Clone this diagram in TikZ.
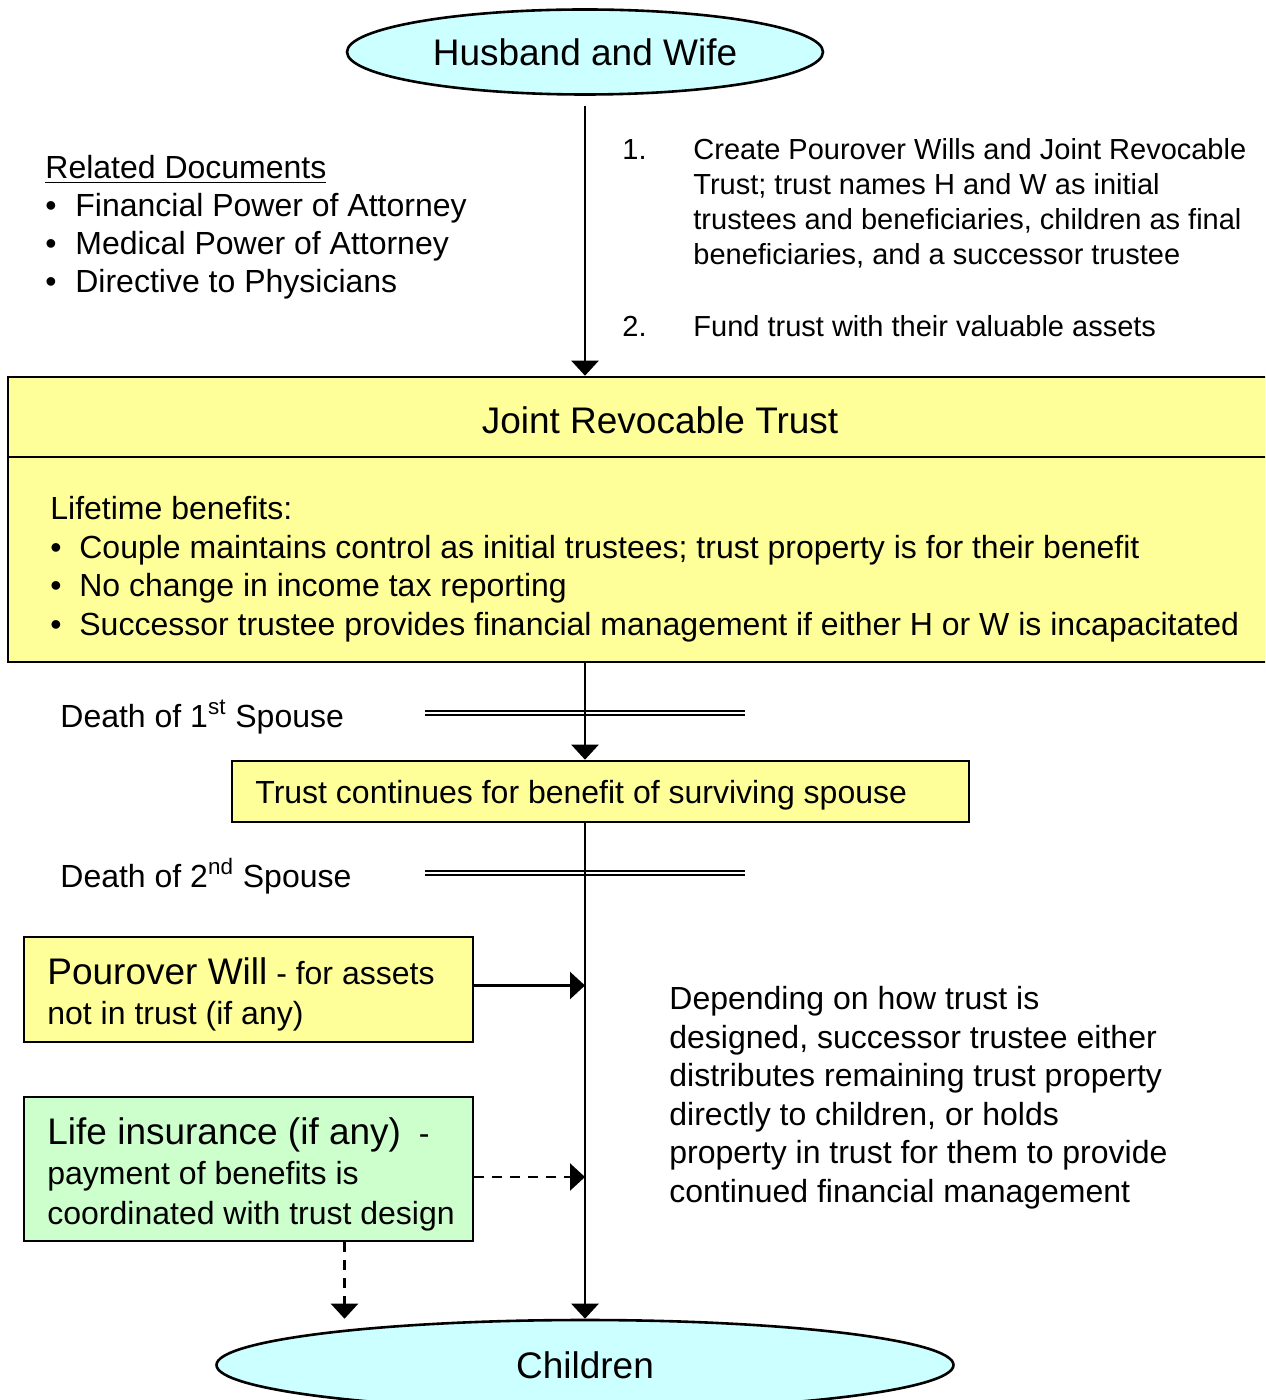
\documentclass[tikz,border=0pt]{standalone}
\usepackage{fontspec}
\setmainfont{Liberation Sans}
\usetikzlibrary{arrows.meta, positioning, shapes.geometric}
\definecolor{ovalfill}{HTML}{CCFFFF}
\definecolor{trustfill}{HTML}{FFFF99}
\definecolor{lifefill}{HTML}{CCFFCC}

\begin{document}
\begin{tikzpicture}[x=0.5pt, y=-0.5pt,
        oval/.style={ellipse, draw, fill=ovalfill, line width=1.3pt, inner sep=0pt, font=\fontsize{18.5}{22}\selectfont},
        box/.style={rectangle, draw, line width=1.3pt, inner sep=0pt},
        txt/.style={anchor=base west, inner sep=0pt, align=left, font=\fontsize{16}{19.25}\selectfont},
        steptxt/.style={txt, font=\fontsize{14.5}{17.5}\selectfont},
        flow/.style={line width=1.2pt, -{Triangle[width=13.5pt, length=7.5pt]}},
        hint/.style={flow, dash pattern=on 5pt off 4pt},
        spousebar/.style={double, double distance=1.2pt, line width=1.1pt}
    ]
        \clip (0,0) rectangle (1265,1400);

        % Ovals at top and bottom
        \node [oval, minimum width=238pt, minimum height=42.5pt] (hw) at (585,52) {Husband and Wife};
        \node [oval, minimum width=368.5pt, minimum height=45pt] (ch) at (585,1365) {Children};

        % Related documents and steps (base = last line)
        \node [txt, font=\fontsize{16}{19}\selectfont] (docs) at (45,293) {\underline{Related Documents}\\
            \makebox[15pt][l]{•}Financial Power of Attorney\\
            \makebox[15pt][l]{•}Medical Power of Attorney\\
            \makebox[15pt][l]{•}Directive to Physicians};
        \node [steptxt] (n1) at (622,160) {1.};
        \node [steptxt] (step1) at (693,265) {Create Pourover Wills and Joint Revocable\\
            Trust; trust names H and W as initial\\
            trustees and beneficiaries, children as final\\
            beneficiaries, and a successor trustee};
        \node [steptxt] (n2) at (622,337) {2.};
        \node [steptxt] (step2) at (693,337) {Fund trust with their valuable assets};

        % Joint trust box
        \node [box, fill=trustfill, minimum width=652pt, minimum height=142.5pt] (jrt) at (660,519.5) {};
        \coordinate (split) at (0,457);
        \draw [line width=1.3pt] (jrt.west |- split) -- (jrt.east |- split);
        \node [anchor=base, inner sep=0pt, font=\fontsize{18.5}{22}\selectfont] (jrttitle) at (660,434) {Joint Revocable Trust};
        \node [txt] (life) at (50,635) {Lifetime benefits:\\
            \makebox[14.5pt][l]{•}Couple maintains control as initial trustees; trust property is for their benefit\\
            \makebox[14.5pt][l]{•}No change in income tax reporting\\
            \makebox[14.5pt][l]{•}Successor trustee provides financial management if either H or W is incapacitated};
        \draw [flow] ([yshift=-5pt]hw.south) -- (hw.south |- jrt.north);

        % Death of 1st spouse
        \coordinate (bar1w) at (425,713);
        \coordinate (bar1e) at (745,713);
        \draw [spousebar] (bar1w) -- (bar1e);
        \node [txt] (death1) at (60,727) {Death of 1\textsuperscript{st} Spouse};
        \node [box, fill=trustfill, minimum width=368.5pt, minimum height=30.5pt] (tc) at (600.5,791.5) {};
        \node [txt] (tctext) at (255,803) {Trust continues for benefit of surviving spouse};
        \draw [flow] (hw.south |- jrt.south) -- (hw.south |- tc.north);

        % Death of 2nd spouse
        \coordinate (bar2w) at (425,873);
        \coordinate (bar2e) at (745,873);
        \draw [spousebar] (bar2w) -- (bar2e);
        \node [txt] (death2) at (60,887) {Death of 2\textsuperscript{nd} Spouse};
        \draw [flow] (hw.south |- tc.south) -- (ch.north);

        % Pourover will and life insurance
        \node [box, fill=trustfill, minimum width=224.5pt, minimum height=52.5pt] (pw) at (248.5,989.5) {};
        \node [txt, font=\fontsize{16}{20}\selectfont] (pwtext) at (47,1024) {{\fontsize{18.5}{20}\selectfont Pourover Will} - for assets\\
            not in trust (if any)};
        \draw [flow] ([yshift=2pt]pw.east) -- ([yshift=2pt]pw.east -| hw.south);
        \node [box, fill=lifefill, minimum width=224.5pt, minimum height=72pt] (li) at (248.5,1169) {};
        \node [txt, font=\fontsize{16}{20}\selectfont] (litext) at (47,1224) {{\fontsize{18.5}{20}\selectfont Life insurance (if any)}\ \ -\\
            payment of benefits is\\
            coordinated with trust design};
        \draw [hint] ([yshift=-4pt]li.east) -- ([yshift=-4pt]li.east -| hw.south);
        \draw [hint] ([xshift=48pt]li.south) -- ([xshift=48pt]li.south |- ch.north);

        % Outcome text
        \node [txt] (outcome) at (669,1202) {Depending on how trust is\\
            designed, successor trustee either\\
            distributes remaining trust property\\
            directly to children, or holds\\
            property in trust for them to provide\\
            continued financial management};
    \end{tikzpicture}
\end{document}
